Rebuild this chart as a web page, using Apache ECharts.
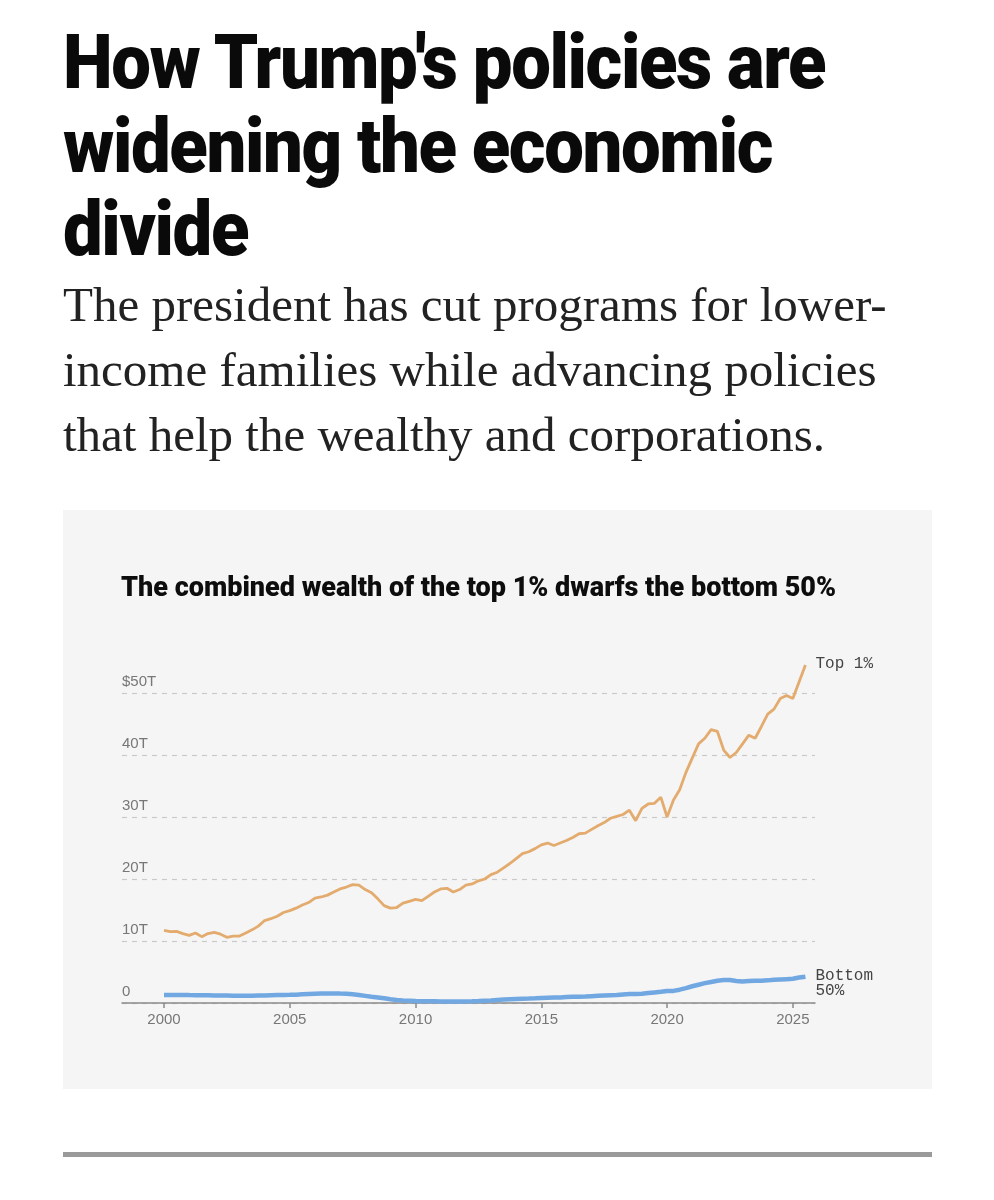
<!DOCTYPE html>
<html>
<head>
<meta charset="utf-8">
<script src="https://cdn.jsdelivr.net/npm/echarts@6/dist/echarts.min.js"></script>
<style>
  html, body { margin: 0; padding: 0; background: #ffffff; }
  body { width: 994px; height: 1200px; position: relative; overflow: hidden; }
  .hl { position: absolute; left: 63px; font-family: Roboto, "Liberation Sans", sans-serif; font-weight: 900;
        font-size: 76px; color: #0a0a0a; letter-spacing: -1.5px; white-space: nowrap; transform-origin: left top;
        transform: scaleX(0.93); line-height: 76px; }
  .sub { position: absolute; left: 63px; top: 272px; font-family: "Liberation Serif", "DejaVu Serif", serif;
         font-size: 49px; line-height: 65px; color: #222; white-space: nowrap; }
  #chart { position: absolute; left: 63px; top: 510px; width: 869px; height: 579px; background: #f5f5f5; }
  .rule { position: absolute; left: 63px; top: 1152px; width: 869px; height: 5px; background: #9a9a9a; }
</style>
</head>
<body>
<div class="hl" style="top:24px">How Trump's policies are</div>
<div class="hl" style="top:108px">widening the economic</div>
<div class="hl" style="top:191px">divide</div>
<div class="sub">The president has cut programs for lower-<br>income families while advancing policies<br>that help the wealthy and corporations.</div>
<div id="chart"></div>
<div class="rule"></div>
<script>
// Quarterly series, first quarter of 2000 through 2025 (trillions of dollars)
const startYear = 2000;
const top1 = [11.7,11.5,11.55,11.2,10.9,11.3,10.7,11.2,11.4,11.1,
  10.6,10.8,10.8,11.3,11.8,12.4,13.3,13.6,14.0,14.6,
  14.9,15.3,15.8,16.2,16.9,17.1,17.4,17.9,18.4,18.7,
  19.1,19.0,18.3,17.8,16.8,15.7,15.3,15.4,16.1,16.4,
  16.7,16.5,17.2,17.9,18.4,18.5,17.9,18.3,19.0,19.2,
  19.7,20.0,20.7,21.1,21.8,22.5,23.3,24.1,24.4,24.9,
  25.5,25.8,25.4,25.8,26.2,26.7,27.3,27.4,28.0,28.6,
  29.1,29.8,30.1,30.4,31.1,29.4,31.4,32.1,32.2,33.2,
  30.0,32.7,34.4,37.2,39.5,41.8,42.7,44.1,43.8,40.8,
  39.6,40.4,41.8,43.2,42.7,44.6,46.6,47.4,49.1,49.6,
  49.1,51.8,54.5];
const bottom50 = [1.3,1.3,1.3,1.3, 1.28,1.27,1.25,1.25, 1.22,1.2,1.2,1.18, 1.15,1.15,1.18,1.2,
  1.22,1.25,1.28,1.3, 1.32,1.35,1.4,1.45, 1.5,1.55,1.55,1.55, 1.52,1.5,1.4,1.3,
  1.15,1.0,0.9,0.75, 0.6,0.48,0.4,0.37, 0.33,0.3,0.28,0.27, 0.25,0.25,0.24,0.24,
  0.25,0.28,0.32,0.37, 0.42,0.5,0.55,0.6, 0.65,0.7,0.72,0.75, 0.8,0.85,0.88,0.9,
  0.95,1.0,1.02,1.05, 1.1,1.15,1.2,1.25, 1.3,1.38,1.45,1.45, 1.5,1.6,1.7,1.8,
  1.95,1.95,2.15,2.4, 2.7,2.95,3.2,3.4, 3.6,3.7,3.7,3.55, 3.45,3.55,3.6,3.6,
  3.65,3.75,3.8,3.85, 3.9,4.1,4.25];
const xTicks = [2000, 2005, 2010, 2015, 2020, 2025];
const yTicks = [0, 10, 20, 30, 40, 50];
const seriesNames = ['Top 1%', 'Bottom\n50%'];
const chartTitle = 'The combined wealth of the top 1% dwarfs the bottom 50%';

const toPairs = arr => arr.map((v, i) => [startYear + i / 4, v]);

const chart = echarts.init(document.getElementById('chart'));
chart.setOption({
  animation: false,
  backgroundColor: '#f5f5f5',
  title: {
    text: chartTitle, left: 53, top: 61,
    textStyle: { fontFamily: 'Roboto, sans-serif', fontWeight: 900, fontSize: 27, color: '#0d0d0d', letterSpacing: -0.6 }
  },
  grid: { left: 59, right: 117, top: 183, bottom: 86 },
  xAxis: {
    type: 'value', min: 1998.33, max: 2025.88,
    axisLine: { show: true, lineStyle: { color: '#8a8a8a', width: 1.5 } },
    axisTick: { show: true, customValues: xTicks, length: 5, lineStyle: { color: '#8a8a8a', width: 1.5 } },
    axisLabel: { customValues: xTicks, color: '#777', fontSize: 15, margin: 9, letterSpacing: 1,
      fontFamily: '"Liberation Sans", sans-serif', formatter: v => String(v) },
    splitLine: { show: false }
  },
  yAxis: {
    type: 'value', min: 0, max: 50, interval: 10,
    axisLine: { show: false }, axisTick: { show: false },
    axisLabel: {
      inside: true, margin: 0, verticalAlign: 'bottom', padding: [0, 0, 4, 0],
      color: '#777', fontSize: 15, letterSpacing: 0.8, fontFamily: '"Liberation Sans", sans-serif',
      customValues: yTicks,
      formatter: v => v === 0 ? '0' : (v === 50 ? '$50T' : v + 'T')
    },
    splitLine: { show: true, lineStyle: { color: '#c9c9c9', type: [5, 5], width: 1.2 } }
  },
  series: [
    {
      name: seriesNames[0], type: 'line', data: toPairs(top1), showSymbol: false, clip: false,
      lineStyle: { color: '#e3ab6e', width: 2.8 }, itemStyle: { color: '#e3ab6e' },
      endLabel: { show: true, formatter: seriesNames[0], distance: 10, fontFamily: '"Liberation Mono", monospace',
        fontSize: 16, color: '#444', offset: [0, -1] }
    },
    {
      name: seriesNames[1], type: 'line', data: toPairs(bottom50), showSymbol: false, clip: false,
      lineStyle: { color: '#72a8e2', width: 4.5 }, itemStyle: { color: '#72a8e2' },
      endLabel: { show: true, formatter: seriesNames[1], distance: 10, fontFamily: '"Liberation Mono", monospace',
        fontSize: 16, lineHeight: 15, color: '#444', offset: [0, 7] }
    }
  ]
});
</script>
</body>
</html>
